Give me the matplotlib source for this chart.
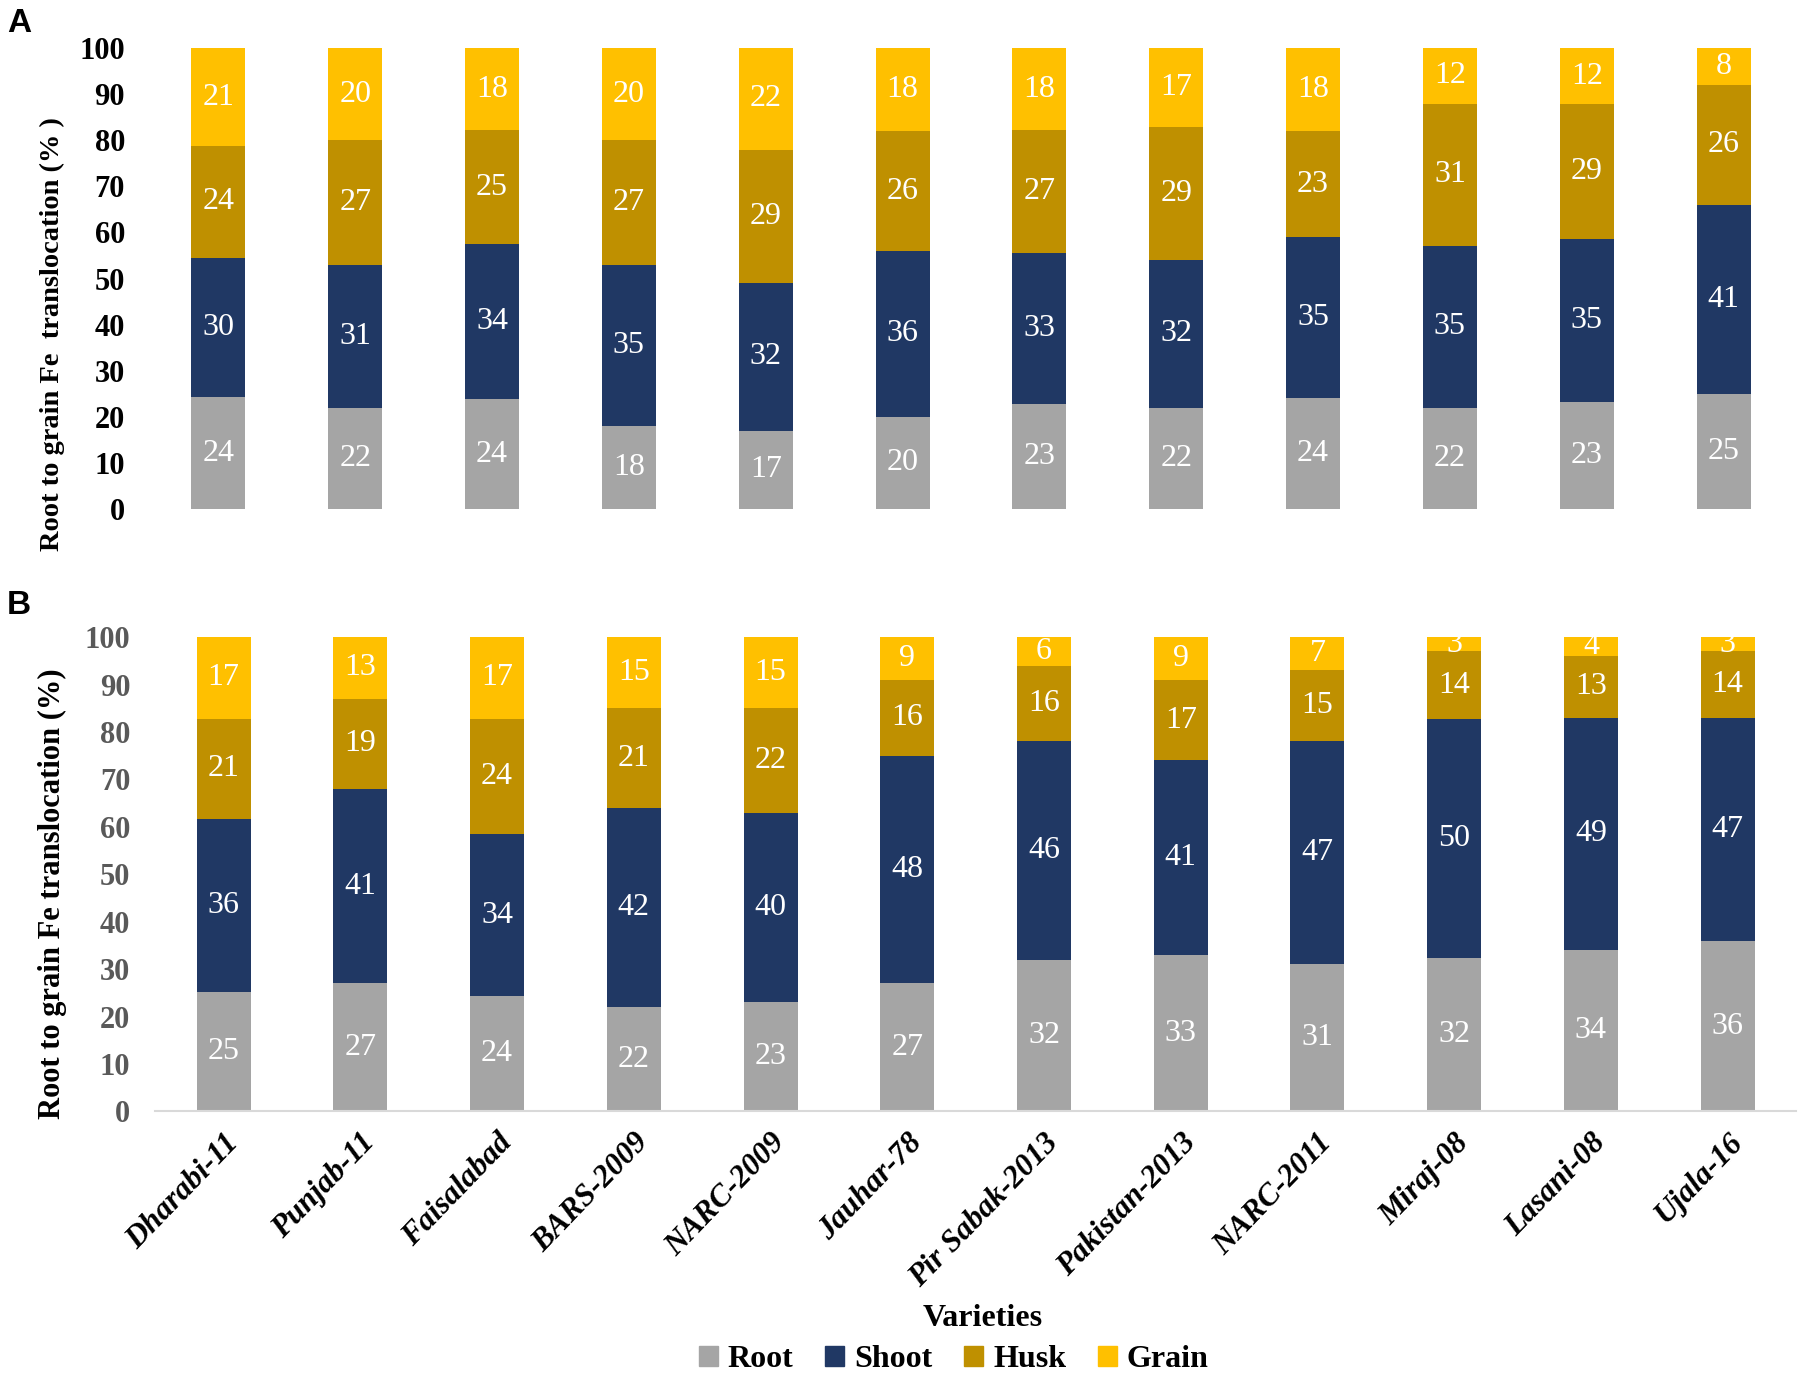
import numpy as np
import matplotlib
matplotlib.use("Agg")
import matplotlib.pyplot as plt
from matplotlib.patches import Patch

varieties = ['Dharabi-11', 'Punjab-11', 'Faisalabad', 'BARS-2009', 'NARC-2009', 'Jauhar-78',
             'Pir Sabak-2013', 'Pakistan-2013', 'NARC-2011', 'Miraj-08', 'Lasani-08', 'Ujala-16']
parts = ['Root', 'Shoot', 'Husk', 'Grain']
colors = ['#A5A5A5', '#203864', '#BF9000', '#FFC000']

# panel A
a_root = [24, 22, 24, 18, 17, 20, 23, 22, 24, 22, 23, 25]
a_shoot = [30, 31, 34, 35, 32, 36, 33, 32, 35, 35, 35, 41]
a_husk = [24, 27, 25, 27, 29, 26, 27, 29, 23, 31, 29, 26]
a_grain = [21, 20, 18, 20, 22, 18, 18, 17, 18, 12, 12, 8]

# panel B
b_root = [25, 27, 24, 22, 23, 27, 32, 33, 31, 32, 34, 36]
b_shoot = [36, 41, 34, 42, 40, 48, 46, 41, 47, 50, 49, 47]
b_husk = [21, 19, 24, 21, 22, 16, 16, 17, 15, 14, 13, 14]
b_grain = [17, 13, 17, 15, 15, 9, 6, 9, 7, 3, 4, 3]

serif = 'Liberation Serif'

fig = plt.figure(figsize=(18.03, 13.79), dpi=100)
axA = fig.add_axes([0.0832, 0.631, 0.9107, 0.334])
axB = fig.add_axes([0.0861, 0.194, 0.910, 0.344])


def stacked(ax, series, tickcolor):
    data = np.array(series, dtype=float)
    pct = data / data.sum(axis=0) * 100
    x = np.arange(len(varieties))
    bottom = np.zeros(len(varieties))
    for i in range(len(parts)):
        ax.bar(x, pct[i], 0.395, bottom=bottom, color=colors[i], label=parts[i])
        for j in range(len(x)):
            ax.text(x[j], bottom[j] + pct[i][j] / 2, str(int(data[i][j])), ha='center', va='center',
                    color='white', fontsize=23, family=serif)
        bottom = bottom + pct[i]
    ax.set_xlim(-0.5, len(varieties) - 0.5)
    ax.set_ylim(0, 100)
    ax.set_yticks(range(0, 101, 10))
    for s in ['top', 'right', 'left']:
        ax.spines[s].set_visible(False)
    ax.tick_params(axis='y', length=0, pad=18, labelsize=22, labelcolor=tickcolor)
    for t in ax.get_yticklabels():
        t.set_family(serif)
        t.set_fontweight('bold')
    return x


x = stacked(axA, [a_root, a_shoot, a_husk, a_grain], 'black')
axA.spines['bottom'].set_visible(False)
axA.set_xticks([])
axA.set_ylabel('Root to grain Fe  translocation (% )', family=serif, fontweight='bold', fontsize=20.5)
axA.yaxis.set_label_coords(-0.052, 0.38)

stacked(axB, [b_root, b_shoot, b_husk, b_grain], '#595959')
axB.spines['bottom'].set_color('#D9D9D9')
axB.spines['bottom'].set_linewidth(1.5)
axB.set_xticks(x)
axB.set_xticklabels(varieties, rotation=46, ha='right', va='top', rotation_mode='anchor',
                    family=serif, fontweight='bold', fontstyle='italic', fontsize=22.5)
axB.tick_params(axis='x', length=0, pad=12)
axB.set_ylabel('Root to grain Fe translocation (%)', family=serif, fontweight='bold', fontsize=22)
axB.yaxis.set_label_coords(-0.054, 0.46)

fig.text(0.004, 0.983, 'A', family='Liberation Sans', fontweight='bold', fontsize=24, va='center')
fig.text(0.004, 0.561, 'B', family='Liberation Sans', fontweight='bold', fontsize=24, va='center')

fig.text(0.545, 0.044, 'Varieties', ha='center', va='center', family=serif, fontweight='bold', fontsize=23)

handles = [Patch(color=c, label=p) for c, p in zip(colors, parts)]
fig.legend(handles=handles, loc='center', bbox_to_anchor=(0.529, 0.014), ncol=4, frameon=False,
           prop={'family': serif, 'weight': 'bold', 'size': 23}, handlelength=0.6, handleheight=0.6,
           handletextpad=0.3, columnspacing=1.0)

fig.savefig('out.png', dpi=100)
